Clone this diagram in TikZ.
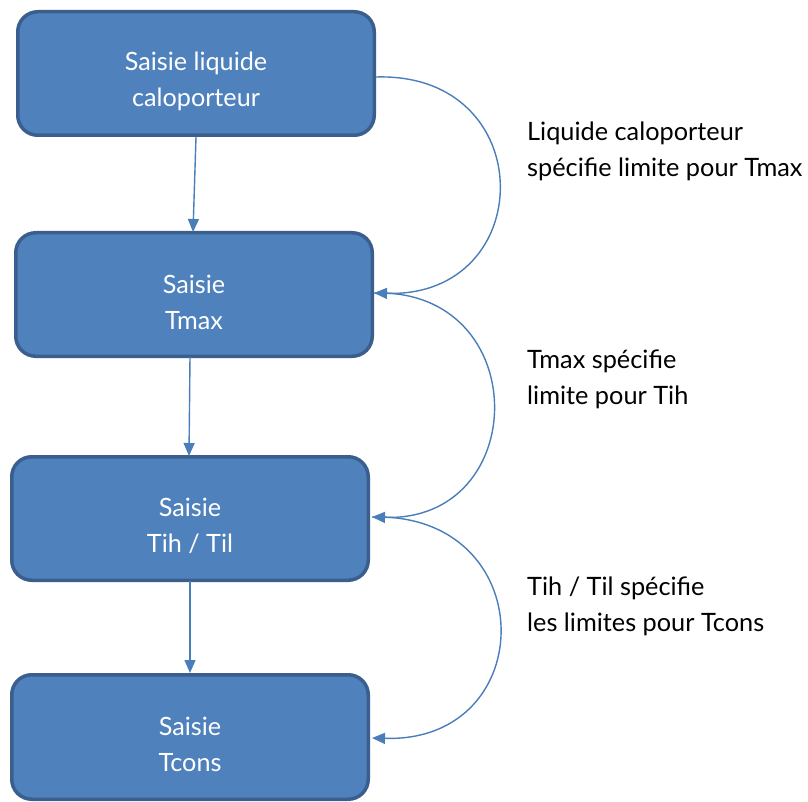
\documentclass[tikz,border=0pt]{standalone}
\usepackage{fontspec}
\setmainfont{Lato}
\usetikzlibrary{arrows.meta}
\definecolor{boxfill}{HTML}{4F81BD}
\definecolor{boxline}{HTML}{3A5F8E}
\definecolor{arrowc}{HTML}{4A7EBB}
\begin{document}
\begin{tikzpicture}[x=1pt,y=1pt,
  stepbox/.style={draw=boxline, line width=3.5pt, fill=boxfill, rounded corners=20pt,
    minimum width=356.5pt, minimum height=123.5pt, inner sep=0pt},
  boxtext/.style={text=white, align=center, inner sep=0pt, font=\fontsize{25.2}{36}\selectfont},
  conn/.style={draw=arrowc, line width=1.4pt, -{Triangle[length=13pt,width=11pt]}},
  lbl/.style={anchor=west, align=left, inner sep=0pt, font=\fontsize{25.3}{36}\selectfont}]
\useasboundingbox (0,0) rectangle (808,-802);
\node[stepbox] (b1) at (196,-73.5) {};
\node[stepbox] (b2) at (194,-294.5) {};
\node[stepbox] (b3) at (190,-518.5) {};
\node[stepbox, minimum height=124.5pt] (b4) at (190,-737) {};
\node[boxtext] (t1) at ([yshift=-7.5pt]b1.center) {Saisie liquide\\caloporteur};
\node[boxtext] (t2) at ([yshift=-7.5pt]b2.center) {Saisie\\Tmax};
\node[boxtext] (t3) at ([yshift=-7.5pt]b3.center) {Saisie\\Tih / Til};
\node[boxtext] (t4) at ([yshift=-7.5pt]b4.center) {Saisie\\Tcons};
\coordinate (s1) at (376,-77);
\coordinate (e1) at (374,-293);
\coordinate (e2) at (372,-517);
\coordinate (e3) at (372,-738);
\coordinate (a1) at (196,-137);
\coordinate (a2) at (193,-232);
\coordinate (a3) at (190,-357);
\coordinate (a4) at (189,-456);
\coordinate (a5) at (190,-581);
\coordinate (a6) at (190,-673);
\draw[conn] (a1) -- (a2);
\draw[conn] (a3) -- (a4);
\draw[conn] (a5) -- (a6);
\draw[conn] (s1) .. controls (541,-72) and (539,-298) .. (e1);
\draw[conn] (e1) .. controls (534,-288) and (532,-522) .. (e2);
\draw[conn] (e2) .. controls (542,-512) and (542,-743) .. (e3);
\node[lbl] (l1) at (527,-151) {Liquide caloporteur\\spécifie limite pour Tmax};
\node[lbl] (l2) at (527,-379) {Tmax spécifie\\limite pour Tih};
\node[lbl] (l3) at (527,-606) {Tih / Til spécifie\\les limites pour Tcons};
\end{tikzpicture}
\end{document}
